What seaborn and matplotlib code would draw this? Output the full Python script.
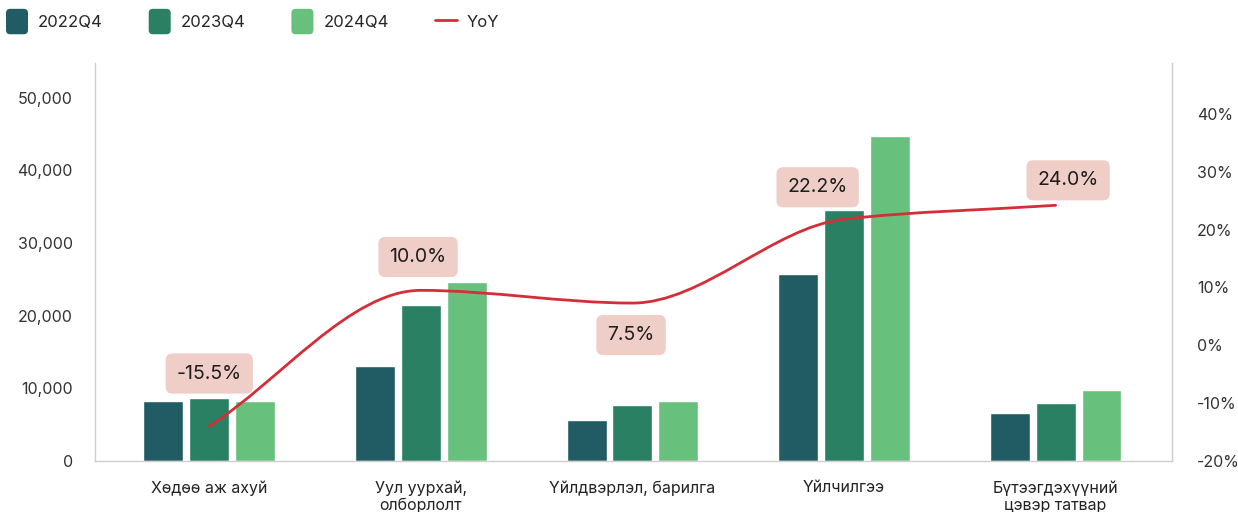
import numpy as np
import pandas as pd
import matplotlib
matplotlib.use("Agg")
import matplotlib.pyplot as plt
import seaborn as sns
from matplotlib.path import Path
from matplotlib.patches import PathPatch, Patch, FancyBboxPatch
from matplotlib.lines import Line2D
from matplotlib.legend_handler import HandlerPatch
from matplotlib.ticker import FuncFormatter, MultipleLocator

# --- données ---
categories = ["Хөдөө аж ахуй", "Уул уурхай,\nолборлолт", "Үйлдвэрлэл, барилга",
              "Үйлчилгээ", "Бүтээгдэхүүний\nцэвэр татвар"]
periods = ["2022Q4", "2023Q4", "2024Q4"]
v_2022q4 = [8300, 13100, 5700, 25800, 6600]
v_2023q4 = [8700, 21500, 7700, 34500, 8000]
v_2024q4 = [8300, 24700, 8300, 44700, 9800]
yoy = [-14.0, 9.5, 7.3, 21.8, 24.2]
yoy_labels = ["-15.5%", "10.0%", "7.5%", "22.2%", "24.0%"]

# décalage des étiquettes (points)
label_offsets = [(0, 38), (-2, 24), (-1, -23), (-19, 23), (9, 18)]

colors = ["#215B63", "#2A8062", "#68C07D"]
red = "#D42E38"

df = pd.DataFrame({
    "cat": categories * 3,
    "period": np.repeat(periods, len(categories)),
    "value": v_2022q4 + v_2023q4 + v_2024q4,
})

sns.set_style("white")
plt.rcParams["font.family"] = ["Inter", "DejaVu Sans"]

fig = plt.figure(figsize=(12.38, 5.12), dpi=100)
ax = fig.add_axes([95 / 1238, 51 / 512, 1077 / 1238, 398 / 512])

sns.barplot(data=df, x="cat", y="value", hue="period", palette=colors,
            width=0.65, gap=0.13, legend=False, ax=ax, saturation=1)

ax.set_xlim(-0.54, 4.55)
ax.set_ylim(0, 54800)
ax.yaxis.set_major_locator(MultipleLocator(10000))
ax.yaxis.set_major_formatter(FuncFormatter(lambda v, p: f"{int(v):,}"))
ax.set_xlabel("")
ax.set_ylabel("")
ax.tick_params(axis="y", length=0, pad=16, labelsize=11.5, labelcolor="#333333")
ax.tick_params(axis="x", length=0, pad=14, labelsize=11.5, labelcolor="#222222")
for lab in ax.get_xticklabels():
    lab.set_linespacing(1.15)
for s in ["left", "bottom", "right"]:
    ax.spines[s].set_color("#CFCFCF")
    ax.spines[s].set_linewidth(1)
ax.spines["top"].set_visible(False)

# --- axe secondaire : YoY ---
ax2 = ax.twinx()
ax2.set_ylim(-20, 48.8)
ax2.yaxis.set_major_locator(MultipleLocator(10))
ax2.yaxis.set_major_formatter(FuncFormatter(lambda v, p: f"{int(round(v))}%"))
ax2.tick_params(axis="y", length=0, pad=18, labelsize=11.5, labelcolor="#333333")
for s in ["left", "bottom", "top"]:
    ax2.spines[s].set_visible(False)
ax2.spines["right"].set_color("#CFCFCF")

# courbe lissée (cubique monotone)
xs = np.arange(len(yoy), dtype=float)
ys = np.array(yoy, dtype=float)
d = np.diff(ys)
m = np.zeros_like(ys)
m[0], m[-1] = d[0], d[-1]
for k in range(1, len(ys) - 1):
    if d[k - 1] * d[k] > 0:
        m[k] = 2 * d[k - 1] * d[k] / (d[k - 1] + d[k])
verts = [(xs[0], ys[0])]
codes = [Path.MOVETO]
for k in range(len(ys) - 1):
    verts += [(xs[k] + 1 / 3, ys[k] + m[k] / 3),
              (xs[k + 1] - 1 / 3, ys[k + 1] - m[k + 1] / 3),
              (xs[k + 1], ys[k + 1])]
    codes += [Path.CURVE4] * 3
ax2.add_patch(PathPatch(Path(verts, codes), fc="none", ec=red, lw=2.0,
                        capstyle="round"))

for x, y, txt, off in zip(xs, ys, yoy_labels, label_offsets):
    ax2.annotate(txt, xy=(x, y), xytext=off, textcoords="offset points",
                 ha="center", va="center", fontsize=14, color="#1E1E1E",
                 bbox=dict(boxstyle="round,pad=0.57,rounding_size=0.35",
                           fc="#F0CEC8", ec="none"))


# --- légende ---
class RoundHandler(HandlerPatch):
    def create_artists(self, legend, orig_handle, xdescent, ydescent,
                       width, height, fontsize, trans):
        p = FancyBboxPatch((-xdescent, -ydescent - 3), width, height + 6,
                           boxstyle="round,pad=0,rounding_size=3",
                           fc=orig_handle.get_facecolor(), ec="none",
                           transform=trans)
        return [p]


handles = [Patch(facecolor=c, label=p) for c, p in zip(colors, periods)]
handles.append(Line2D([], [], color=red, lw=2.0, label="YoY"))
fig.legend(handles=handles, loc="upper left", bbox_to_anchor=(6 / 1238, 1 - 13 / 512),
           ncol=4, frameon=False, fontsize=12, handlelength=1.32,
           handleheight=1.2, handletextpad=0.6, columnspacing=2.75,
           borderpad=0, borderaxespad=0,
           handler_map={Patch: RoundHandler()})

fig.savefig("out.png", dpi=100)
